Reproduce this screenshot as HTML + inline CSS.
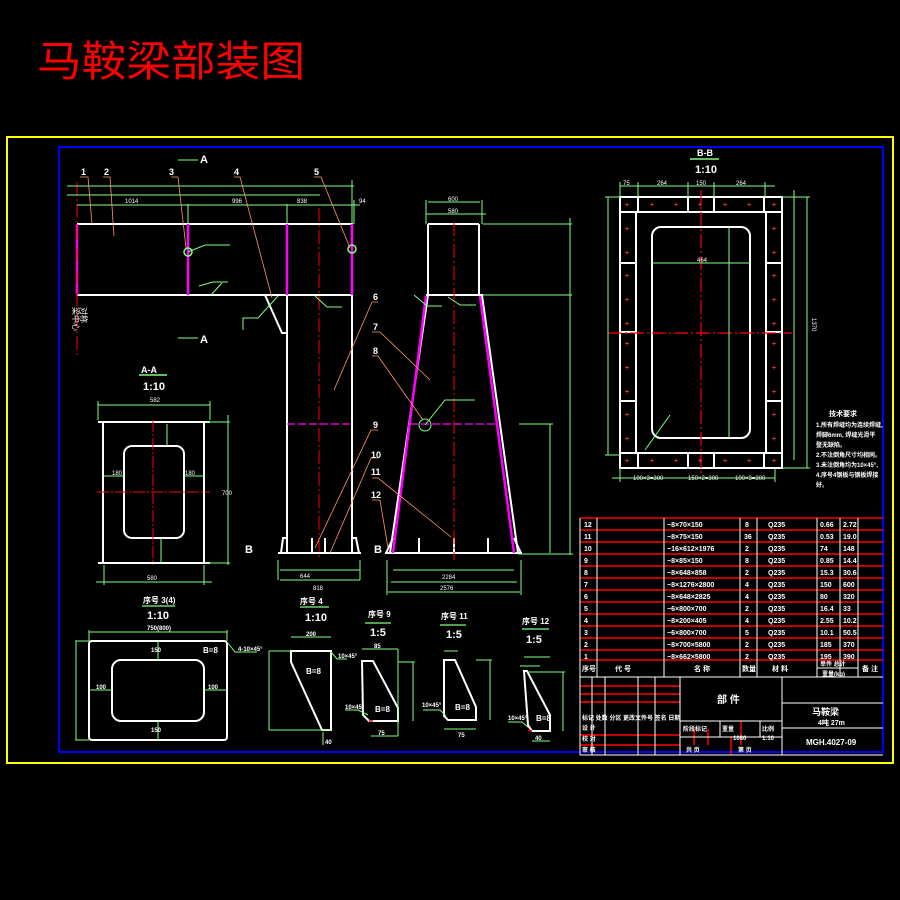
<!DOCTYPE html>
<html><head><meta charset="utf-8"><style>
html,body{margin:0;padding:0;background:#000;width:900px;height:900px;overflow:hidden}
svg{display:block}
text{font-family:"Liberation Sans","Noto Sans CJK SC",sans-serif}
</style></head><body>
<svg width="900" height="900" viewBox="0 0 900 900" xmlns="http://www.w3.org/2000/svg">
<rect width="900" height="900" fill="#000"/>
<text x="37" y="76" fill="#ff0000" font-size="42" textLength="268" lengthAdjust="spacingAndGlyphs" style="font-family:'Noto Sans CJK SC',sans-serif;font-weight:normal">马鞍梁部装图</text>
<rect x="7" y="137" width="886" height="626" fill="none" stroke="#ffff00" stroke-width="2"/>
<rect x="59" y="147" width="824" height="605" fill="none" stroke="#0000ff" stroke-width="2"/>

<!-- ===== Main elevation ===== -->
<g stroke="#fff" stroke-width="2" fill="none">
<line x1="77" y1="224" x2="353" y2="224"/>
<line x1="77" y1="295" x2="353" y2="295"/>
<line x1="287" y1="295" x2="287" y2="553"/>
<line x1="352" y1="295" x2="352" y2="553"/>
<line x1="278" y1="553" x2="361" y2="553"/>
<polyline points="281,553 283,538 287,538"/>
<polyline points="359,553 356,538 352,538"/>
<polyline points="265,295 282,333 287,333"/>
<line x1="312" y1="553" x2="312" y2="538"/>
<line x1="325" y1="553" x2="325" y2="538"/>
<line x1="428" y1="224" x2="479" y2="224"/>
<line x1="428" y1="224" x2="428" y2="295"/>
<line x1="479" y1="224" x2="479" y2="295"/>
<line x1="426" y1="295" x2="483" y2="295"/>
<line x1="428" y1="295" x2="390" y2="553"/>
<line x1="482" y1="295" x2="518" y2="553"/>
<line x1="385" y1="553" x2="522" y2="553"/>
<polyline points="386,553 393,538"/>
<polyline points="521,553 514,538"/>
<line x1="419" y1="553" x2="419" y2="538"/>
<line x1="454" y1="553" x2="454" y2="538"/>
<line x1="488" y1="553" x2="488" y2="538"/>
</g>
<g stroke="#ff00ff" stroke-width="2.5">
<line x1="77" y1="224" x2="77" y2="295"/>
<line x1="188" y1="224" x2="188" y2="295"/>
<line x1="287" y1="224" x2="287" y2="295"/>
<line x1="352" y1="224" x2="352" y2="295"/>
<line x1="426" y1="296" x2="393" y2="553"/>
<line x1="480" y1="296" x2="514" y2="553"/>
<line x1="287" y1="424" x2="352" y2="424" stroke-width="1.2" stroke-dasharray="8,3"/>
<line x1="410" y1="424" x2="497" y2="424" stroke-width="1.2" stroke-dasharray="8,3"/>
</g>
<g stroke="#ff0000" stroke-width="1" stroke-dasharray="14,3,2,3">
<line x1="77" y1="182" x2="77" y2="358"/>
<line x1="319" y1="208" x2="319" y2="560"/>
<line x1="454" y1="222" x2="454" y2="560"/>
</g>
<circle cx="188" cy="252" r="4" fill="none" stroke="#7fff7f" stroke-width="1.5"/>
<circle cx="352" cy="249" r="4" fill="none" stroke="#7fff7f" stroke-width="1.5"/>
<circle cx="425" cy="425" r="6" fill="none" stroke="#7fff7f"/>
<g stroke="#7fff7f" stroke-width="1" fill="none">
<line x1="67" y1="186" x2="354" y2="186"/>
<line x1="67" y1="195" x2="320" y2="195"/>
<line x1="77" y1="205" x2="360" y2="205"/>
<line x1="188" y1="204" x2="188" y2="224"/><line x1="287" y1="204" x2="287" y2="224"/><line x1="352" y1="180" x2="352" y2="224"/><line x1="354" y1="200" x2="354" y2="224"/>
<line x1="278" y1="560" x2="278" y2="580"/><line x1="360" y1="560" x2="360" y2="580"/>
<line x1="280" y1="570" x2="360" y2="570"/><line x1="280" y1="580" x2="360" y2="580"/>
<line x1="428" y1="202" x2="480" y2="202"/><line x1="426" y1="214" x2="486" y2="214"/>
<line x1="426" y1="200" x2="426" y2="224"/><line x1="482" y1="200" x2="482" y2="224"/>
<line x1="483" y1="224" x2="572" y2="224"/><line x1="483" y1="295" x2="572" y2="295"/>
<line x1="570" y1="218" x2="570" y2="555"/>
<line x1="519" y1="424" x2="553" y2="424"/><line x1="550" y1="424" x2="550" y2="553"/>
<line x1="518" y1="554" x2="573" y2="554"/>
<line x1="393" y1="570" x2="514" y2="570"/><line x1="391" y1="582" x2="517" y2="582"/><line x1="388" y1="592" x2="520" y2="592"/>
<line x1="387" y1="560" x2="387" y2="595"/><line x1="521" y1="560" x2="521" y2="595"/>
<polyline points="199,286 213,282 228,282"/><polyline points="315,296 327,307 342,307"/><polyline points="211,295 222,283"/>
<polyline points="414,295 427,306 442,306"/><polyline points="448,297 460,305 476,305"/>
<polyline points="188,252 205,245 230,245"/>
<polyline points="243,330 243,318 258,318 278,296"/>
<polyline points="425,425 445,400 475,400"/>
<line x1="178" y1="160" x2="198" y2="160"/><line x1="178" y1="338" x2="198" y2="338"/>
</g>
<g stroke="#ff9966" stroke-width="0.8" fill="none">
<polyline points="80,177 88,177 92,224"/><polyline points="103,177 110,177 114,236"/>
<polyline points="171,177 178,177 186,248"/><polyline points="234,177 240,177 272,298"/>
<polyline points="314,177 321,177 350,248"/>
<polyline points="378,302 372,302 334,390"/><polyline points="372,332 380,332 430,380"/>
<polyline points="372,356 378,356 423,420"/><polyline points="378,430 371,430 315,548"/>
<polyline points="378,458 371,458 330,553"/><polyline points="372,478 378,478 451,537"/>
<polyline points="372,500 380,500 388,548"/>
</g>
<g fill="#fff" font-size="9" font-weight="bold">
<text x="81" y="175">1</text><text x="104" y="175">2</text><text x="169" y="175">3</text><text x="234" y="175">4</text><text x="314" y="175">5</text>
<text x="373" y="300">6</text><text x="373" y="330">7</text><text x="373" y="354">8</text><text x="373" y="428">9</text>
<text x="371" y="458">10</text><text x="371" y="475">11</text><text x="371" y="498">12</text>
<text x="200" y="163" font-size="11">A</text><text x="200" y="343" font-size="11">A</text>
<text x="245" y="553" font-size="11">B</text><text x="374" y="553" font-size="11">B</text>
</g>
<g fill="#fff" font-size="6">
<text x="125" y="203">1014</text><text x="232" y="203">996</text><text x="297" y="203">838</text><text x="359" y="203">94</text>
<text x="448" y="201">600</text><text x="448" y="213">580</text>
<text x="300" y="578">644</text><text x="313" y="590">818</text><text x="442" y="579">2284</text><text x="440" y="590">2576</text>
<text x="73" y="307" transform="rotate(90 73 307)" font-size="8">梁中心</text><text x="81" y="307" transform="rotate(90 81 307)" font-size="8">对称</text>
</g>

<!-- ===== A-A ===== -->
<text x="141" y="373" fill="#fff" font-size="9" font-weight="bold">A-A</text>
<line x1="139" y1="375" x2="167" y2="375" stroke="#7fff7f" stroke-width="1.5"/>
<text x="143" y="390" fill="#fff" font-size="11" font-weight="bold">1:10</text>
<g stroke="#fff" stroke-width="2" fill="none">
<line x1="98" y1="422" x2="210" y2="422"/><line x1="98" y1="563" x2="210" y2="563"/>
<line x1="103" y1="422" x2="103" y2="563"/><line x1="204" y1="422" x2="204" y2="563"/>
<rect x="124" y="446" width="60" height="92" rx="8"/>
</g>
<g stroke="#ff0000" stroke-width="1"><line x1="97" y1="492" x2="210" y2="492" stroke-dasharray="12,2,2,2"/><line x1="153" y1="420" x2="153" y2="565" stroke-dasharray="12,2,2,2"/></g>
<g stroke="#7fff7f" stroke-width="1" fill="none">
<line x1="98" y1="405" x2="210" y2="405"/><line x1="98" y1="401" x2="98" y2="420"/><line x1="210" y1="401" x2="210" y2="420"/>
<line x1="228" y1="415" x2="228" y2="565"/><line x1="205" y1="422" x2="230" y2="422"/><line x1="205" y1="563" x2="230" y2="563"/>
<line x1="96" y1="582" x2="212" y2="582"/><line x1="104" y1="565" x2="104" y2="585"/><line x1="204" y1="565" x2="204" y2="585"/>
<line x1="104" y1="476" x2="124" y2="476"/><line x1="184" y1="476" x2="204" y2="476"/>
<line x1="167" y1="424" x2="167" y2="446"/><line x1="161" y1="538" x2="161" y2="563"/>
</g>
<g fill="#fff" font-size="6"><text x="150" y="402">582</text><text x="147" y="580">580</text><text x="112" y="475">180</text><text x="185" y="475">180</text><text x="222" y="495">700</text></g>

<!-- ===== B-B ===== -->
<text x="697" y="156" fill="#fff" font-size="9" font-weight="bold">B-B</text>
<line x1="690" y1="159" x2="719" y2="159" stroke="#7fff7f" stroke-width="1.5"/>
<text x="695" y="173" fill="#fff" font-size="11" font-weight="bold">1:10</text>
<g stroke="#fff" stroke-width="2" fill="none">
<rect x="620" y="197" width="162" height="271"/>
<line x1="620" y1="212" x2="782" y2="212"/><line x1="620" y1="453" x2="782" y2="453"/>
<line x1="636" y1="212" x2="636" y2="453"/><line x1="766" y1="212" x2="766" y2="453"/>
<rect x="652" y="227" width="98" height="211" rx="9"/>
<line x1="638" y1="197" x2="638" y2="212"/><line x1="688" y1="197" x2="688" y2="212"/><line x1="714" y1="197" x2="714" y2="212"/><line x1="764" y1="197" x2="764" y2="212"/>
<line x1="638" y1="453" x2="638" y2="468"/><line x1="688" y1="453" x2="688" y2="468"/><line x1="714" y1="453" x2="714" y2="468"/><line x1="764" y1="453" x2="764" y2="468"/>
<line x1="620" y1="263" x2="636" y2="263"/><line x1="620" y1="332" x2="636" y2="332"/><line x1="620" y1="401" x2="636" y2="401"/>
<line x1="766" y1="263" x2="782" y2="263"/><line x1="766" y1="332" x2="782" y2="332"/><line x1="766" y1="401" x2="782" y2="401"/>
</g>
<g stroke="#ff0000" stroke-width="1.2" stroke-dasharray="14,3,2,3"><line x1="701" y1="190" x2="701" y2="475"/><line x1="608" y1="333" x2="792" y2="333"/></g>
<g fill="#ff3030" font-size="7" font-weight="bold">
<text x="625" y="207">+</text><text x="650" y="207">+</text><text x="674" y="207">+</text><text x="698" y="207">+</text><text x="723" y="207">+</text><text x="747" y="207">+</text><text x="772" y="207">+</text>
<text x="625" y="463">+</text><text x="650" y="463">+</text><text x="674" y="463">+</text><text x="698" y="463">+</text><text x="723" y="463">+</text><text x="747" y="463">+</text><text x="772" y="463">+</text>
<text x="625" y="231">+</text><text x="625" y="255">+</text><text x="625" y="278">+</text><text x="625" y="302">+</text><text x="625" y="326">+</text><text x="625" y="346">+</text><text x="625" y="370">+</text><text x="625" y="394">+</text><text x="625" y="417">+</text><text x="625" y="441">+</text>
<text x="772" y="231">+</text><text x="772" y="255">+</text><text x="772" y="278">+</text><text x="772" y="302">+</text><text x="772" y="326">+</text><text x="772" y="346">+</text><text x="772" y="370">+</text><text x="772" y="394">+</text><text x="772" y="417">+</text><text x="772" y="441">+</text>
</g>
<g stroke="#7fff7f" stroke-width="1" fill="none">
<line x1="620" y1="186" x2="775" y2="186"/><line x1="620" y1="182" x2="620" y2="197"/><line x1="638" y1="182" x2="638" y2="197"/><line x1="688" y1="182" x2="688" y2="197"/><line x1="714" y1="182" x2="714" y2="197"/><line x1="765" y1="182" x2="765" y2="197"/>
<line x1="608" y1="197" x2="608" y2="455"/><line x1="605" y1="197" x2="620" y2="197"/><line x1="605" y1="455" x2="620" y2="455"/>
<line x1="794" y1="190" x2="794" y2="460"/><line x1="807" y1="197" x2="807" y2="468"/><line x1="782" y1="197" x2="810" y2="197"/><line x1="782" y1="468" x2="810" y2="468"/>
<line x1="612" y1="478" x2="775" y2="478"/><line x1="620" y1="468" x2="620" y2="482"/><line x1="775" y1="468" x2="775" y2="482"/>
<line x1="652" y1="263" x2="750" y2="263"/><line x1="729" y1="227" x2="729" y2="438"/>
<line x1="645" y1="450" x2="670" y2="415"/>
</g>
<g fill="#fff" font-size="6"><text x="623" y="185">75</text><text x="657" y="185">264</text><text x="696" y="185">150</text><text x="736" y="185">264</text>
<text x="697" y="262">464</text><text x="633" y="480">100×3=300</text><text x="688" y="480">150×2=300</text><text x="735" y="480">100×3=300</text>
<text x="812" y="318" transform="rotate(90 812 318)">1370</text></g>
<g fill="#fff" font-size="7" font-weight="bold"><text x="829" y="416">技术要求</text>
<text x="816" y="427" font-size="6">1.所有焊缝均为连续焊缝,</text><text x="816" y="437" font-size="6">焊脚6mm, 焊缝光滑平</text><text x="816" y="447" font-size="6">整无缺陷。</text>
<text x="816" y="457" font-size="6">2.不注倒角尺寸均相同。</text><text x="816" y="467" font-size="6">3.未注倒角均为10×45°,</text><text x="816" y="477" font-size="6">4.序号4钢板与钢板焊接</text><text x="816" y="487" font-size="6">好。</text></g>

<!-- ===== Bottom details ===== -->
<g fill="#fff" font-size="8" font-weight="bold">
<text x="143" y="603">序号 3(4)</text><text x="147" y="619" font-size="11">1:10</text>
<text x="300" y="604">序号 4</text><text x="305" y="621" font-size="11">1:10</text>
<text x="368" y="617">序号 9</text><text x="370" y="636" font-size="11">1:5</text>
<text x="441" y="619">序号 11</text><text x="446" y="638" font-size="11">1:5</text>
<text x="522" y="624">序号 12</text><text x="526" y="643" font-size="11">1:5</text>
</g>
<g stroke="#7fff7f" stroke-width="1.2"><line x1="142" y1="606" x2="175" y2="606"/><line x1="300" y1="607" x2="329" y2="607"/><line x1="365" y1="623" x2="391" y2="623"/><line x1="440" y1="625" x2="466" y2="625"/><line x1="522" y1="629" x2="549" y2="629"/></g>
<g stroke="#fff" stroke-width="2" fill="none">
<rect x="89" y="641" width="138" height="99" rx="3"/>
<rect x="112" y="660" width="92" height="61" rx="9"/>
<polygon points="291,651 331,651 331,730 322,730 291,662"/>
<polygon points="362,661 373,661 398,708 398,721 369,721 363,715"/>
<polygon points="444,660 455,660 476,707 476,720 448,720 444,716"/>
<polygon points="524,671 527,671 550,715 550,731 532,731 528,725"/>
</g>
<g stroke="#7fff7f" stroke-width="1" fill="none">
<line x1="89" y1="632" x2="227" y2="632"/><line x1="89" y1="630" x2="89" y2="641"/><line x1="227" y1="630" x2="227" y2="641"/>
<line x1="76" y1="641" x2="76" y2="740"/><line x1="75" y1="641" x2="89" y2="641"/><line x1="75" y1="740" x2="89" y2="740"/>
<line x1="90" y1="690" x2="112" y2="690"/><line x1="204" y1="690" x2="226" y2="690"/><line x1="158" y1="641" x2="158" y2="660"/><line x1="158" y1="721" x2="158" y2="740"/>
<polyline points="227,642 235,652 257,652"/>
<line x1="291" y1="637" x2="331" y2="637"/><line x1="269" y1="651" x2="269" y2="730"/><line x1="269" y1="730" x2="331" y2="730"/><line x1="269" y1="651" x2="291" y2="651"/>
<line x1="323" y1="732" x2="323" y2="745"/>
<polyline points="331,652 337,659 347,659"/>
<line x1="362" y1="649" x2="398" y2="649"/><line x1="398" y1="649" x2="398" y2="736"/><line x1="371" y1="736" x2="398" y2="736"/><line x1="398" y1="662" x2="415" y2="662"/><line x1="413" y1="662" x2="413" y2="721"/>
<polyline points="368,715 358,710 345,710"/>
<line x1="444" y1="651" x2="458" y2="651"/><line x1="444" y1="729" x2="476" y2="729"/><line x1="476" y1="660" x2="492" y2="660"/><line x1="490" y1="660" x2="490" y2="720"/>
<polyline points="446,716 440,710 423,710"/>
<line x1="524" y1="657" x2="550" y2="657"/><line x1="520" y1="666" x2="540" y2="666"/><line x1="527" y1="672" x2="565" y2="672"/><line x1="563" y1="672" x2="563" y2="731"/><line x1="532" y1="741" x2="550" y2="741"/>
<polyline points="529,728 522,722 508,722"/>
</g>
<g stroke="#ff0000" stroke-width="1.5"><line x1="369" y1="721" x2="373" y2="721"/><line x1="528" y1="730" x2="532" y2="731"/></g>
<g fill="#fff" font-size="6" font-weight="bold">
<text x="147" y="630">750(800)</text><text x="151" y="652">150</text><text x="96" y="689">100</text><text x="208" y="689">100</text><text x="151" y="732">150</text>
<text x="203" y="653" font-size="8">B=8</text><text x="238" y="651">4-10×45°</text>
<text x="306" y="636">200</text><text x="306" y="674" font-size="8">B=8</text><text x="338" y="658">10×45°</text><text x="325" y="744">40</text>
<text x="374" y="648">85</text><text x="375" y="712" font-size="8">B=8</text><text x="345" y="709">10×45°</text><text x="378" y="735">75</text>
<text x="455" y="710" font-size="8">B=8</text><text x="422" y="707">10×45°</text><text x="458" y="737">75</text>
<text x="536" y="721" font-size="8">B=8</text><text x="508" y="720">10×45°</text><text x="535" y="740">40</text>
</g>

<!-- ===== Parts table ===== -->
<g stroke="#ff0000" stroke-width="1.5">
<line x1="580" y1="518" x2="883" y2="518"/><line x1="580" y1="530" x2="883" y2="530"/><line x1="580" y1="542" x2="883" y2="542"/><line x1="580" y1="554" x2="883" y2="554"/><line x1="580" y1="566" x2="883" y2="566"/><line x1="580" y1="578" x2="883" y2="578"/><line x1="580" y1="590" x2="883" y2="590"/><line x1="580" y1="602" x2="883" y2="602"/><line x1="580" y1="614" x2="883" y2="614"/><line x1="580" y1="626" x2="883" y2="626"/><line x1="580" y1="638" x2="883" y2="638"/><line x1="580" y1="650" x2="883" y2="650"/><line x1="580" y1="660" x2="883" y2="660"/>
<line x1="580" y1="686" x2="680" y2="686"/><line x1="580" y1="694" x2="680" y2="694"/><line x1="580" y1="702" x2="680" y2="702"/><line x1="580" y1="735" x2="680" y2="735"/><line x1="580" y1="745" x2="680" y2="745"/>
<line x1="694" y1="729" x2="694" y2="745"/><line x1="741" y1="721" x2="741" y2="745"/><line x1="708" y1="729" x2="708" y2="745"/><line x1="731" y1="737" x2="731" y2="755"/>
</g>
<g stroke="#fff" stroke-width="1" fill="none">
<line x1="580" y1="518" x2="580" y2="755"/><line x1="597" y1="518" x2="597" y2="677"/><line x1="664" y1="518" x2="664" y2="677"/><line x1="740" y1="518" x2="740" y2="677"/><line x1="757" y1="518" x2="757" y2="677"/><line x1="817" y1="518" x2="817" y2="677"/><line x1="840" y1="518" x2="840" y2="677"/><line x1="858" y1="518" x2="858" y2="677"/>
<line x1="580" y1="677" x2="883" y2="677"/><line x1="817" y1="668" x2="858" y2="668"/>
<line x1="592" y1="677" x2="592" y2="755"/><line x1="605" y1="677" x2="605" y2="755"/><line x1="638" y1="677" x2="638" y2="755"/><line x1="655" y1="677" x2="655" y2="755"/><line x1="680" y1="677" x2="680" y2="755"/>
<line x1="782" y1="677" x2="782" y2="755"/><line x1="782" y1="703" x2="883" y2="703"/><line x1="782" y1="728" x2="883" y2="728"/>
<line x1="680" y1="721" x2="782" y2="721"/><line x1="680" y1="737" x2="782" y2="737"/><line x1="720" y1="721" x2="720" y2="737"/><line x1="760" y1="721" x2="760" y2="737"/>
<line x1="580" y1="755" x2="883" y2="755"/>
</g>
<g fill="#fff" font-size="7" font-weight="bold">
<text x="584" y="527">12</text><text x="584" y="539">11</text><text x="584" y="551">10</text><text x="584" y="563">9</text><text x="584" y="575">8</text><text x="584" y="587">7</text><text x="584" y="599">6</text><text x="584" y="611">5</text><text x="584" y="623">4</text><text x="584" y="635">3</text><text x="584" y="647">2</text><text x="584" y="659">1</text>
<text x="667" y="527">−8×70×150</text><text x="667" y="539">−8×75×150</text><text x="667" y="551">−16×612×1976</text><text x="667" y="563">−8×85×150</text><text x="667" y="575">−8×648×858</text><text x="667" y="587">−8×1276×2800</text><text x="667" y="599">−8×648×2825</text><text x="667" y="611">−6×800×700</text><text x="667" y="623">−8×200×405</text><text x="667" y="635">−6×800×700</text><text x="667" y="647">−8×700×5800</text><text x="667" y="659">−8×662×5800</text>
<text x="745" y="527">8</text><text x="744" y="539">36</text><text x="745" y="551">2</text><text x="745" y="563">8</text><text x="745" y="575">2</text><text x="745" y="587">4</text><text x="745" y="599">4</text><text x="745" y="611">2</text><text x="745" y="623">4</text><text x="745" y="635">5</text><text x="745" y="647">2</text><text x="745" y="659">2</text>
<text x="768" y="527">Q235</text><text x="768" y="539">Q235</text><text x="768" y="551">Q235</text><text x="768" y="563">Q235</text><text x="768" y="575">Q235</text><text x="768" y="587">Q235</text><text x="768" y="599">Q235</text><text x="768" y="611">Q235</text><text x="768" y="623">Q235</text><text x="768" y="635">Q235</text><text x="768" y="647">Q235</text><text x="768" y="659">Q235</text>
<text x="820" y="527">0.66</text><text x="820" y="539">0.53</text><text x="820" y="551">74</text><text x="820" y="563">0.85</text><text x="820" y="575">15.3</text><text x="820" y="587">150</text><text x="820" y="599">80</text><text x="820" y="611">16.4</text><text x="820" y="623">2.55</text><text x="820" y="635">10.1</text><text x="820" y="647">185</text><text x="820" y="659">195</text>
<text x="843" y="527">2.72</text><text x="843" y="539">19.0</text><text x="843" y="551">148</text><text x="843" y="563">14.4</text><text x="843" y="575">30.6</text><text x="843" y="587">600</text><text x="843" y="599">320</text><text x="843" y="611">33</text><text x="843" y="623">10.2</text><text x="843" y="635">50.5</text><text x="843" y="647">370</text><text x="843" y="659">390</text>
<text x="582" y="671">序号</text><text x="615" y="671">代 号</text><text x="694" y="671">名 称</text><text x="742" y="671">数量</text><text x="772" y="671">材 料</text><text x="820" y="666" font-size="6">单件 总计</text><text x="822" y="676" font-size="6">重量(kg)</text><text x="862" y="671">备 注</text>
<text x="717" y="703" font-size="10">部 件</text>
<text x="812" y="715" font-size="9">马鞍梁</text><text x="818" y="725" font-size="7">4吨 27m</text>
<text x="806" y="745" font-size="8">MGH.4027-09</text>
<text x="582" y="720" font-size="6">标记 处数 分区 更改文件号 签名 日期</text>
<text x="582" y="730" font-size="6">设 计</text><text x="582" y="741" font-size="6">校 对</text><text x="582" y="752" font-size="6">审 核</text>
<text x="683" y="731" font-size="6">阶段标记</text><text x="722" y="731" font-size="6">重量</text><text x="762" y="731" font-size="6">比例</text>
<text x="733" y="740" font-size="6">1080</text><text x="762" y="740" font-size="6">1:10</text>
<text x="686" y="752" font-size="6">共 页</text><text x="738" y="752" font-size="6">第 页</text>
</g>
</svg>
</body></html>
